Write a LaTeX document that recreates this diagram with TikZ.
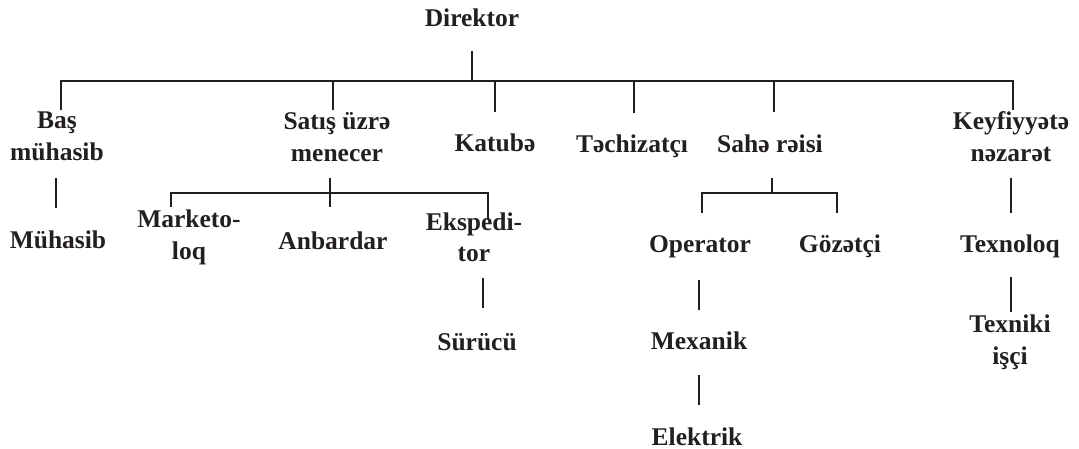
\documentclass[tikz,border=0pt]{standalone}
\usepackage{fontspec}
\setmainfont{Liberation Serif}
\definecolor{ink}{HTML}{231F20}
\tikzset{
  lbl/.style={anchor=base, inner sep=0pt, outer sep=0pt, text=ink,
    font=\fontsize{25.5}{32}\selectfont\bfseries},
  con/.style={draw=ink, line width=2.4pt, line cap=butt, line join=miter}
}
\newcommand{\two}[2]{\begin{tabular}[t]{@{}c@{}}#1\\#2\end{tabular}}
\begin{document}
\begin{tikzpicture}[x=1pt,y=-1pt]
\useasboundingbox (0,0) rectangle (1079,449);
% labels
\node[lbl] (dir) at (472,27) {Direktor};
\node[lbl] (bas) at (57,129) {\two{Baş}{mühasib}};
\node[lbl] (sat) at (337,130) {\two{Satış üzrə}{menecer}};
\node[lbl] (kat) at (495,152) {Katubə};
\node[lbl] (tec) at (632,153) {Təchizatçı};
\node[lbl] (sah) at (770,153) {Sahə rəisi};
\node[lbl] (key) at (1011,130) {\two{Keyfiyyətə}{nəzarət}};
\node[lbl] (muh) at (58,248) {Mühasib};
\node[lbl] (mar) at (189,228) {\two{Marketo-}{loq}};
\node[lbl] (anb) at (333,250) {Anbardar};
\node[lbl] (eks) at (474,230) {\two{Ekspedi-}{tor}};
\node[lbl] (sur) at (477,350) {Sürücü};
\node[lbl] (ope) at (700,253) {Operator};
\node[lbl] (goz) at (840,253) {Gözətçi};
\node[lbl] (tex) at (1010,253) {Texnoloq};
\node[lbl] (mex) at (699,349) {Mexanik};
\node[lbl] (ele) at (697,445) {Elektrik};
\node[lbl] (tis) at (1010,332) {\two{Texniki}{işçi}};
% connector points
\coordinate (dirA) at (472,51);
\coordinate (dirB) at (472,81);
\coordinate (busL) at (61,81);
\coordinate (busR) at (1013,81);
\coordinate (basT) at (61,110);
\coordinate (satT0) at (333,81);
\coordinate (satT) at (333,110);
\coordinate (katT0) at (495,81);
\coordinate (katT) at (495,112);
\coordinate (tecT0) at (634,81);
\coordinate (tecT) at (634,113);
\coordinate (sahT0) at (774,81);
\coordinate (sahT) at (774,112);
\coordinate (keyT) at (1013,110);
\coordinate (basB) at (56,178);
\coordinate (muhT) at (56,208);
\coordinate (satB) at (330,178);
\coordinate (anbT) at (330,207);
\coordinate (sbL) at (171,193);
\coordinate (sbR) at (488,193);
\coordinate (marT) at (171,207);
\coordinate (eksT) at (488,220);
\coordinate (eksB) at (483,278);
\coordinate (surT) at (483,308);
\coordinate (sahB) at (772,178);
\coordinate (sahM) at (772,193);
\coordinate (hbL) at (702,193);
\coordinate (hbR) at (837,193);
\coordinate (opeT) at (702,213);
\coordinate (gozT) at (837,213);
\coordinate (keyB) at (1011,178);
\coordinate (texT) at (1011,213);
\coordinate (opeB) at (699,280);
\coordinate (mexT) at (699,310);
\coordinate (mexB) at (699,375);
\coordinate (eleT) at (699,405);
\coordinate (texB) at (1011,277);
\coordinate (tisT) at (1011,312);
% connectors
\draw[con] (dirA) -- (dirB);
\draw[con] (basT) -- (busL) -- (busR) -- (keyT);
\draw[con] (satT0) -- (satT);
\draw[con] (katT0) -- (katT);
\draw[con] (tecT0) -- (tecT);
\draw[con] (sahT0) -- (sahT);
\draw[con] (basB) -- (muhT);
\draw[con] (satB) -- (anbT);
\draw[con] (marT) -- (sbL) -- (sbR) -- (eksT);
\draw[con] (eksB) -- (surT);
\draw[con] (sahB) -- (sahM);
\draw[con] (opeT) -- (hbL) -- (hbR) -- (gozT);
\draw[con] (keyB) -- (texT);
\draw[con] (opeB) -- (mexT);
\draw[con] (mexB) -- (eleT);
\draw[con] (texB) -- (tisT);
\end{tikzpicture}
\end{document}
